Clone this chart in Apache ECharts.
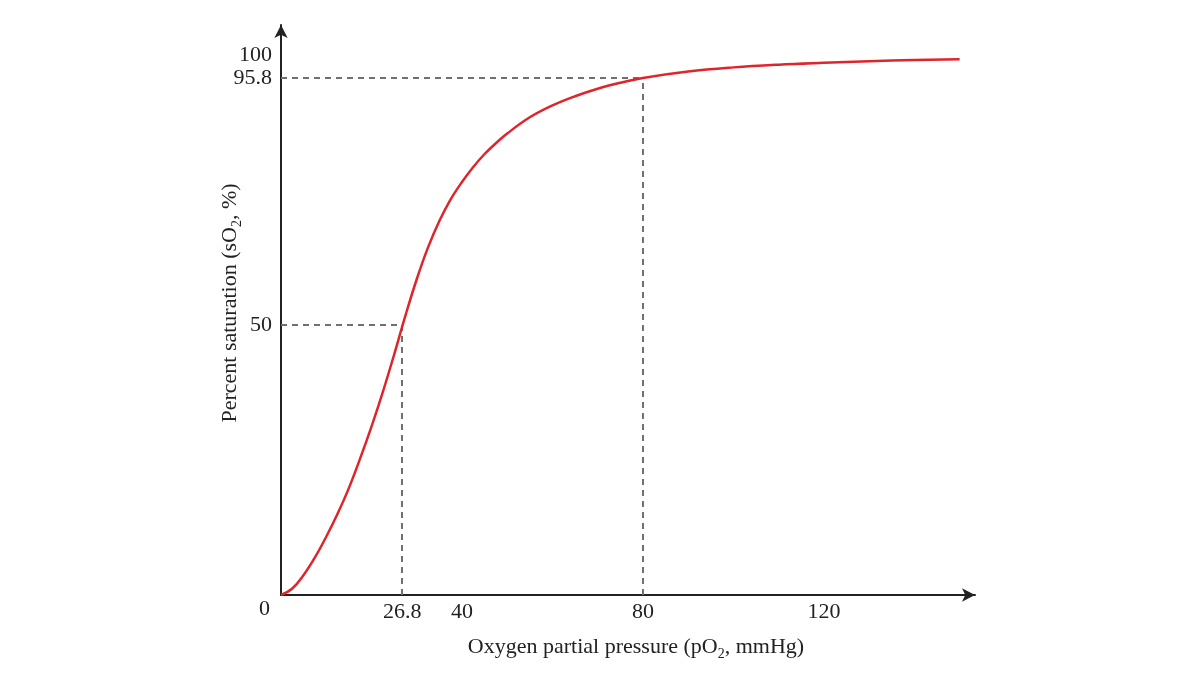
<!DOCTYPE html>
<html>
<head>
<meta charset="utf-8">
<script src="https://cdn.jsdelivr.net/npm/echarts@6/dist/echarts.min.js"></script>
<style>
  html, body { margin: 0; padding: 0; background: #fff; }
  #chart { width: 1200px; height: 675px; }
</style>
</head>
<body>
<div id="chart"></div>
<script>
// values
let pO2 = [0, 2.5, 5, 7.5, 10, 12.5, 15, 17.5, 20, 22.5, 25, 27.5, 30, 32.5, 35, 37.5, 40, 42.5, 45, 47.5, 50, 55, 60, 65, 70, 75, 80, 90, 100, 110, 120, 130, 140, 150]
let sO2 = [0, 1.2, 3.7, 6.95, 10.8, 15.05, 19.8, 25.3, 31.2, 37.6, 44.5, 51.75, 58.5, 64.4, 69.3, 73.3, 76.5, 79.3, 81.7, 83.7, 85.5, 88.5, 90.7, 92.4, 93.8, 94.9, 95.8, 97.0, 97.75, 98.25, 98.6, 98.9, 99.1, 99.25]
let xTicks = [26.8, 40, 80, 120]
let yTicks = [50, 95.8, 100]
let p50 = [26.8, 50]
let pArterial = [80, 95.8]

let font = '"Liberation Serif", "DejaVu Serif", serif'
let ink = '#222'
let dash = { color: '#707070', width: 2, type: [6, 5] }
let subStyle = { fontSize: 14, fontFamily: font, color: ink, verticalAlign: 'bottom' }

let chart = echarts.init(document.getElementById('chart'))
let option = {
  backgroundColor: '#fff',
  animation: false,
  grid: { left: 281, right: 225, top: 25, bottom: 80 },
  xAxis: {
    type: 'value',
    min: 0,
    max: 153.4,
    splitLine: { show: false },
    axisTick: { show: false },
    axisLine: { lineStyle: { color: ink, width: 2 }, symbol: ['none', 'arrow'], symbolSize: [10, 13] },
    axisLabel: { customValues: xTicks, color: ink, fontSize: 22, fontFamily: font, margin: 6 },
    name: 'Oxygen partial pressure (pO{sub|2}, mmHg)',
    nameLocation: 'middle',
    nameGap: 38,
    nameTextStyle: { color: ink, fontSize: 22, fontFamily: font, lineHeight: 28, padding: [0, 0, 0, 16], rich: { sub: subStyle } }
  },
  yAxis: {
    type: 'value',
    min: 0,
    max: 105.6,
    splitLine: { show: false },
    axisTick: { show: false },
    axisLine: { lineStyle: { color: ink, width: 2 }, symbol: ['none', 'arrow'], symbolSize: [10, 13] },
    axisLabel: { customValues: yTicks, color: ink, fontSize: 22, fontFamily: font, margin: 9 },
    name: 'Percent saturation (sO{sub|2}, %)',
    nameLocation: 'middle',
    nameMoveOverlap: false,
    nameGap: 37,
    nameTextStyle: { color: ink, fontSize: 22, fontFamily: font, lineHeight: 28, padding: [0, 0, 0, 14], rich: { sub: subStyle } }
  },
  graphic: [
    { type: 'text', left: 259, top: 598, style: { text: '0', fill: ink, fontSize: 22, fontFamily: font } }
  ],
  series: [{
    type: 'line',
    data: pO2.map((x, i) => [x, sO2[i]]),
    smooth: 0.4,
    showSymbol: false,
    lineStyle: { color: '#e0242c', width: 2.5 },
    z: 3,
    markLine: {
      silent: true,
      symbol: 'none',
      lineStyle: dash,
      label: { show: false },
      z: 2,
      data: [
        [{ coord: [0, p50[1]] }, { coord: p50 }],
        [{ coord: [p50[0], 0] }, { coord: p50 }],
        [{ coord: [0, pArterial[1]] }, { coord: pArterial }],
        [{ coord: [pArterial[0], 0] }, { coord: pArterial }]
      ]
    }
  }]
}
chart.setOption(option)
</script>
</body>
</html>
